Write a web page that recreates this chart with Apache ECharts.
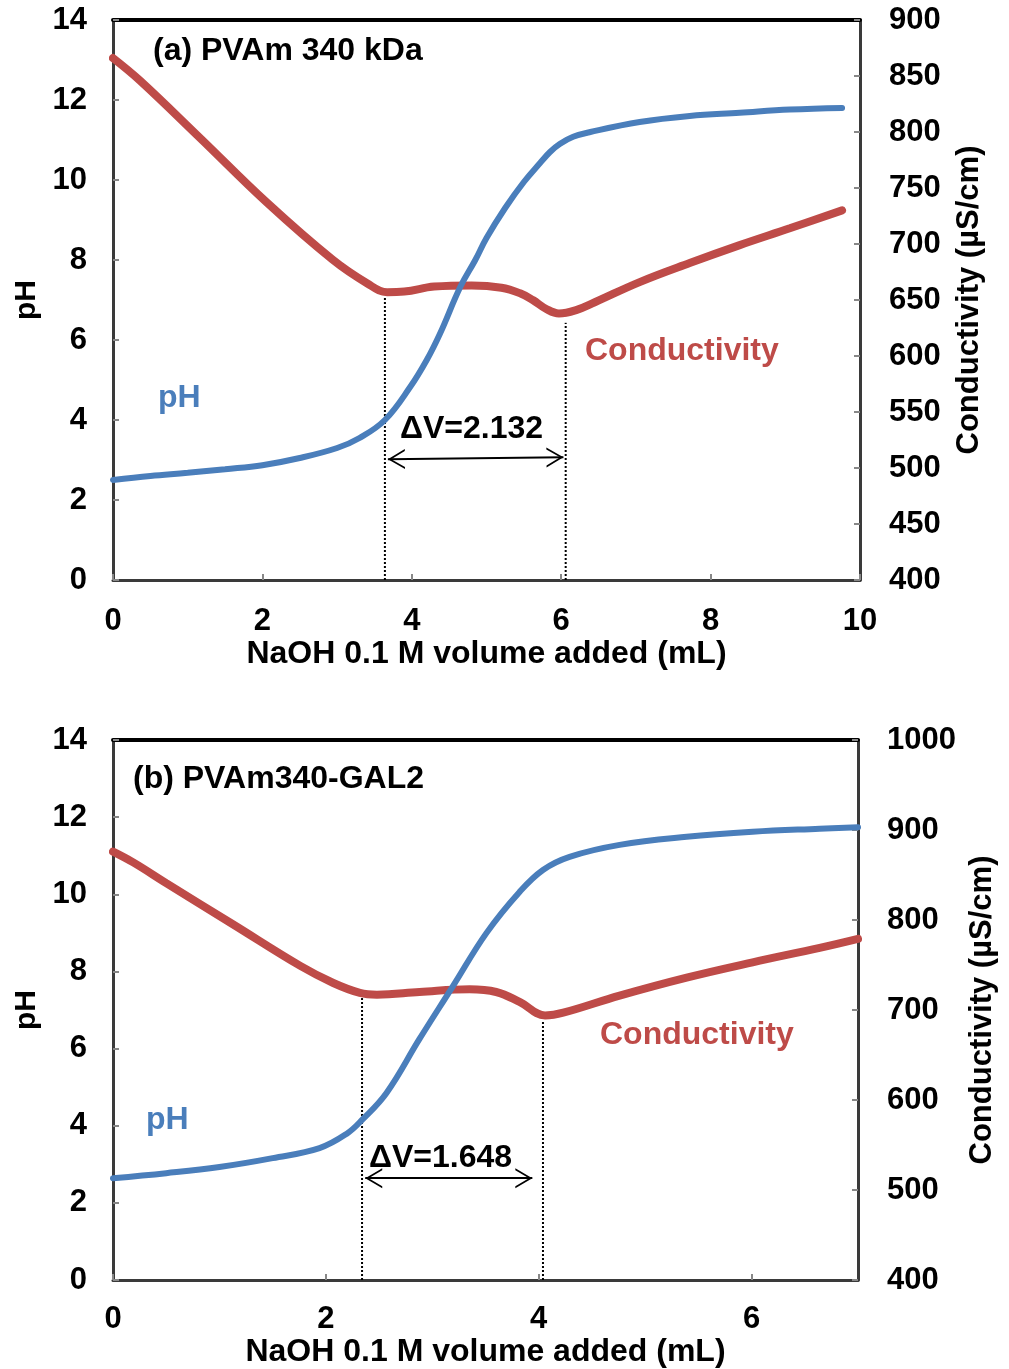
<!DOCTYPE html>
<html>
<head>
<meta charset="utf-8">
<script src="https://cdn.jsdelivr.net/npm/echarts@6/dist/echarts.min.js"></script>
<style>
html,body{margin:0;background:#fff}
#main{width:1009px;height:1369px}
</style>
</head>
<body>
<div id="main"></div>
<script>
// (a) PVAm 340 kDa
var phAX = [0, 0.5, 1, 1.5, 2, 2.5, 3, 3.3, 3.64, 3.98, 4.2, 4.38, 4.65, 4.85, 5.0, 5.25, 5.5, 5.72, 5.85, 5.98, 6.16, 6.39, 7.05, 7.72, 8.39, 9.06, 9.76];
var phAY = [2.5, 2.6, 2.68, 2.77, 2.87, 3.05, 3.3, 3.55, 4.0, 4.83, 5.5, 6.17, 7.33, 8.0, 8.55, 9.3, 9.95, 10.43, 10.7, 10.9, 11.08, 11.2, 11.45, 11.6, 11.68, 11.76, 11.8];
var condAX = [0, 0.36, 1.16, 2.06, 2.94, 3.4, 3.67, 3.9, 4.3, 4.8, 5.2, 5.45, 5.62, 5.8, 5.97, 6.2, 6.45, 7.05, 7.72, 8.39, 9.06, 9.76];
var condAY = [866, 846, 795, 737, 686, 665, 657, 657.5, 662, 663, 661, 656, 650, 642, 638, 641, 648, 666, 683, 699, 714, 730];
var eqA = [3.64, 6.06];          // equivalence points (mL)
var eqTopA = [7.1, 6.43];        // height of dotted lines (pH units)
var arrowA = [[3.68, 3.02], [6.03, 3.07]];

// (b) PVAm340-GAL2
var phBX = [0, 0.5, 1, 1.5, 1.94, 2.2, 2.34, 2.57, 2.88, 3.19, 3.51, 3.82, 4.04, 4.29, 4.76, 5.39, 6.01, 6.64, 7.0];
var phBY = [2.64, 2.77, 2.93, 3.16, 3.42, 3.8, 4.15, 4.85, 6.25, 7.6, 9.0, 10.06, 10.63, 10.97, 11.28, 11.49, 11.62, 11.7, 11.74];
var condBX = [0, 0.19, 0.5, 1.13, 1.76, 2.07, 2.32, 2.48, 2.88, 3.35, 3.6, 3.82, 4.06, 4.23, 4.76, 5.39, 6.01, 6.64, 7.0];
var condBY = [876, 864, 841, 795, 749, 730, 719, 717, 720, 723, 720, 709, 694, 697, 716, 736, 753, 769, 779];
var eqB = [2.34, 4.04];
var eqTopB = [7.31, 6.69];
var arrowB = [[2.37, 2.64], [3.94, 2.64]];

var FONT = 'Liberation Sans';
var BLUE = '#4A7EBB', RED = '#BE4B48';

function zip(xs, ys) {
    return xs.map(function (x, i) { return [x, ys[i]]; });
}

var txt = {fontFamily: FONT, fontWeight: 'bold', fontSize: 31, color: '#000'};
var tick = {show: true, inside: true, length: 6, lineStyle: {color: '#888', width: 2}};
var frame = {show: true, onZero: false, lineStyle: {color: '#3a3a3a', width: 3}};
var plain = function (v) { return String(v); };

function xBottom(grid, max, gap, margin) {
    return {
        type: 'value', gridIndex: grid, position: 'bottom', min: 0, max: max, interval: 2,
        axisLine: frame, axisTick: tick, splitLine: {show: false},
        axisLabel: Object.assign({margin: margin, showMaxLabel: max % 2 === 0, formatter: plain}, txt),
        name: 'NaOH 0.1 M volume added (mL)', nameLocation: 'middle', nameGap: gap,
        nameTextStyle: Object.assign({}, txt, {fontSize: 32})
    };
}
function xTop(grid, max) {
    return {
        type: 'value', gridIndex: grid, position: 'top', min: 0, max: max,
        axisLine: {show: true, onZero: false, lineStyle: {color: '#000', width: 4}},
        axisTick: {show: false}, axisLabel: {show: false}, splitLine: {show: false}
    };
}
function yLeft(grid) {
    return {
        type: 'value', gridIndex: grid, position: 'left', min: 0, max: 14, interval: 2,
        axisLine: frame, axisTick: tick, splitLine: {show: false},
        axisLabel: Object.assign({margin: 26, formatter: plain}, txt),
        name: 'pH', nameLocation: 'middle', nameGap: 66, nameRotate: 90,
        nameTextStyle: Object.assign({}, txt, {fontSize: 30})
    };
}
function yRight(grid, min, max, step, gap) {
    return {
        type: 'value', gridIndex: grid, position: 'right', min: min, max: max, interval: step,
        axisLine: frame, axisTick: tick, splitLine: {show: false},
        axisLabel: Object.assign({margin: 29, formatter: plain}, txt),
        name: 'Conductivity (\u00b5S/cm)', nameLocation: 'middle', nameGap: gap, nameRotate: 90,
        nameTextStyle: Object.assign({}, txt, {fontSize: 31})
    };
}

var chevron = 'path://M10,-17 L10.01,-17 L10,-17 Z M10,0 L20,17 L18,17 L10,3.4 L2,17 L0,17 Z';

function dotted(xIdx, yIdx, xs, tops) {
    return xs.map(function (x, i) {
        return {
            type: 'line', xAxisIndex: xIdx, yAxisIndex: yIdx, data: [[x, 0], [x, tops[i]]],
            symbol: 'none', silent: true, z: 1,
            lineStyle: {color: '#000', width: 2, type: [2, 2]}
        };
    });
}

function curves(xIdx, yPh, yCond, ph, cond, arrow) {
    return [{
        type: 'line', xAxisIndex: xIdx, yAxisIndex: yCond, data: cond,
        smooth: 0.4, symbol: 'none', z: 3,
        lineStyle: {color: RED, width: 8, cap: 'round'}
    }, {
        type: 'line', xAxisIndex: xIdx, yAxisIndex: yPh, data: ph,
        smooth: 0.4, symbol: 'none', z: 4,
        lineStyle: {color: BLUE, width: 6, cap: 'round'},
        markLine: {
            silent: true, animation: false, label: {show: false},
            symbol: [chevron, chevron], symbolSize: [20, 34],
            lineStyle: {color: '#000', width: 2, type: 'solid'},
            data: [[{coord: arrow[0]}, {coord: arrow[1]}]]
        }
    }];
}

function label(text, x, y, color) {
    return {
        type: 'text', left: x, top: y - 15,
        style: {text: text, fill: color, font: 'bold 32px "' + FONT + '"'}
    };
}

var chart = echarts.init(document.getElementById('main'));
chart.setOption({
    animation: false,
    grid: [
        {left: 113, top: 20, width: 747, height: 560, containLabel: false, outerBoundsMode: 'none'},
        {left: 113, top: 740, width: 745, height: 540, containLabel: false, outerBoundsMode: 'none'}
    ],
    xAxis: [xBottom(0, 10, 56, 26), xTop(0, 10), xBottom(1, 7, 54, 24), xTop(1, 7)],
    yAxis: [yLeft(0), yRight(0, 400, 900, 50, 94), yLeft(1), yRight(1, 400, 1000, 100, 104)],
    series: []
        .concat(dotted(0, 0, eqA, eqTopA))
        .concat(curves(0, 0, 1, zip(phAX, phAY), zip(condAX, condAY), arrowA))
        .concat(dotted(2, 2, eqB, eqTopB))
        .concat(curves(2, 2, 3, zip(phBX, phBY), zip(condBX, condBY), arrowB)),
    graphic: [
        label('(a) PVAm 340 kDa', 153, 50, '#000'),
        label('\u0394V=2.132', 400, 428, '#000'),
        label('pH', 158, 397, BLUE),
        label('Conductivity', 585, 350, RED),
        label('(b) PVAm340-GAL2', 133, 778, '#000'),
        label('\u0394V=1.648', 369, 1157, '#000'),
        label('pH', 146, 1119, BLUE),
        label('Conductivity', 600, 1034, RED)
    ]
});
</script>
</body>
</html>
